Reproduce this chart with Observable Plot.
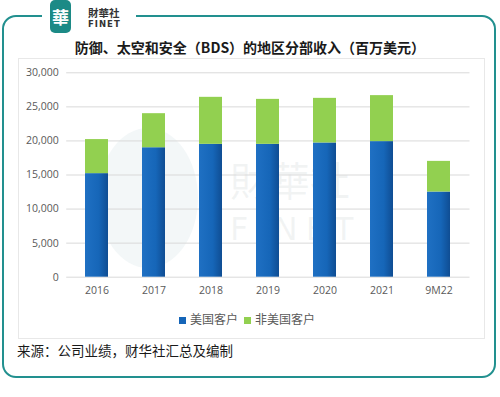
<!DOCTYPE html>
<html>
<head>
<meta charset="utf-8">
<script src="https://cdn.jsdelivr.net/npm/d3@7"></script>
<script src="https://cdn.jsdelivr.net/npm/@observablehq/plot@0.6"></script>
<style>
  html, body { margin: 0; padding: 0; background: #fff; }
  #root { position: relative; width: 500px; height: 397px; overflow: hidden; font-family: "Noto Sans CJK SC", "Noto Sans", sans-serif; }
  .abs { position: absolute; }
</style>
</head>
<body>
<div id="root">
  <div class="abs" style="left:2px;top:15px;width:490px;height:359px;border:2.5px solid #22908f;border-radius:14px;"></div>
  <div class="abs" style="left:42px;top:10px;width:94px;height:12px;background:#fff;"></div>
  <div class="abs" style="left:50px;top:0px;width:21px;height:33px;background:#1c8a86;border-radius:5px;color:#fff;font-size:17px;line-height:33px;text-align:center;font-weight:bold;font-family:'Noto Sans CJK TC',serif;">華</div>
  <div class="abs" style="left:88px;top:7px;height:12px;font-size:10.5px;font-weight:bold;color:#333;line-height:12px;font-family:'Noto Sans CJK TC';">財華社</div>
  <div class="abs" style="left:88px;top:20px;height:9px;font-size:8.5px;font-weight:bold;color:#333;line-height:9px;letter-spacing:1px;font-family:'DejaVu Sans';">FINET</div>
  <div class="abs" id="title" style="left:0;top:37px;width:500px;text-align:center;font-size:14px;font-weight:bold;color:#1a1a1a;line-height:20px;"></div>
  <div class="abs" style="left:18px;top:58px;width:465px;height:279px;border:1px solid #e8e8e8;"></div>
  <!-- watermark -->
  <div class="abs" style="left:98px;top:128px;width:100px;height:140px;border-radius:50%;background:rgba(120,170,180,0.09);"></div>
  <div class="abs" style="left:230px;top:157px;height:44px;font-size:40px;color:rgba(150,160,165,0.12);font-family:'Noto Sans CJK TC';line-height:44px;">財華社</div>
  <div class="abs" style="left:230px;top:211px;height:36px;font-size:32px;color:rgba(150,160,165,0.12);font-family:'DejaVu Sans';letter-spacing:8px;line-height:36px;">FINET</div>
  <div class="abs" id="chart" style="left:0;top:60px;"></div>
  <div class="abs" id="legend" style="left:0;top:311px;width:500px;text-align:center;font-size:12px;color:#595959;line-height:16px;"></div>
  <div class="abs" id="source" style="left:17px;top:341px;font-size:13.5px;color:#1a1a1a;line-height:18px;"></div>
</div>
<script>
const titleText = "防御、太空和安全（BDS）的地区分部收入（百万美元）";
const sourceText = "来源：公司业绩，财华社汇总及编制";
const years = ["2016", "2017", "2018", "2019", "2020", "2021", "9M22"];
const seriesNames = ["美国客户", "非美国客户"];
const usCustomers = [15200, 19000, 19500, 19500, 19700, 19900, 12500];
const nonUsCustomers = [5000, 5000, 6900, 6600, 6550, 6750, 4500];
const yTicks = [0, 5000, 10000, 15000, 20000, 25000, 30000];
const seriesColors = ["url(#gBlue)", "#92d050"];
const legendColors = ["#1565b8", "#92d050"];

document.getElementById("title").textContent = titleText;
document.getElementById("source").textContent = sourceText;
document.getElementById("legend").innerHTML = seriesNames.map((s, i) =>
  `<span style="display:inline-block;width:7px;height:7px;background:${legendColors[i]};margin-right:4px;vertical-align:0px;"></span><span style="margin-right:6px;">${s}</span>`
).join("");

const rows = [];
years.forEach((y, i) => {
  rows.push({year: y, series: seriesNames[0], value: usCustomers[i]});
  rows.push({year: y, series: seriesNames[1], value: nonUsCustomers[i]});
});

const chart = Plot.plot({
  width: 500,
  height: 250,
  marginTop: 12.3,
  marginBottom: 33.3,
  marginLeft: 66.2,
  marginRight: 30.5,
  style: {fontFamily: "'Open Sans', sans-serif", fontSize: "10.5px", color: "#595959", background: "transparent"},
  x: {domain: years, paddingInner: 0.6, paddingOuter: 0.3, label: null, tickSize: 0, tickPadding: 9},
  y: {domain: [0, 30000], ticks: yTicks, tickFormat: d3.format(","), label: null, tickSize: 0, tickPadding: 8},
  color: {type: "ordinal", domain: seriesNames, range: seriesColors},
  marks: [
    Plot.ruleY(yTicks, {stroke: "#d9d9d9", strokeWidth: 1}),
    Plot.barY(rows, Plot.stackY({x: "year", y: "value", fill: "series", order: seriesNames}))
  ]
});

const ns = "http://www.w3.org/2000/svg";
const defs = document.createElementNS(ns, "defs");
const grad = document.createElementNS(ns, "linearGradient");
grad.setAttribute("id", "gBlue");
grad.setAttribute("x1", "0"); grad.setAttribute("x2", "1");
grad.setAttribute("y1", "0"); grad.setAttribute("y2", "0");
[["0%", "#1f70c3"], ["60%", "#1666b8"], ["100%", "#0f4d93"]].forEach(([o, c]) => {
  const st = document.createElementNS(ns, "stop");
  st.setAttribute("offset", o); st.setAttribute("stop-color", c);
  grad.appendChild(st);
});
defs.appendChild(grad);
chart.insertBefore(defs, chart.firstChild);
document.getElementById("chart").appendChild(chart);
</script>
</body>
</html>
